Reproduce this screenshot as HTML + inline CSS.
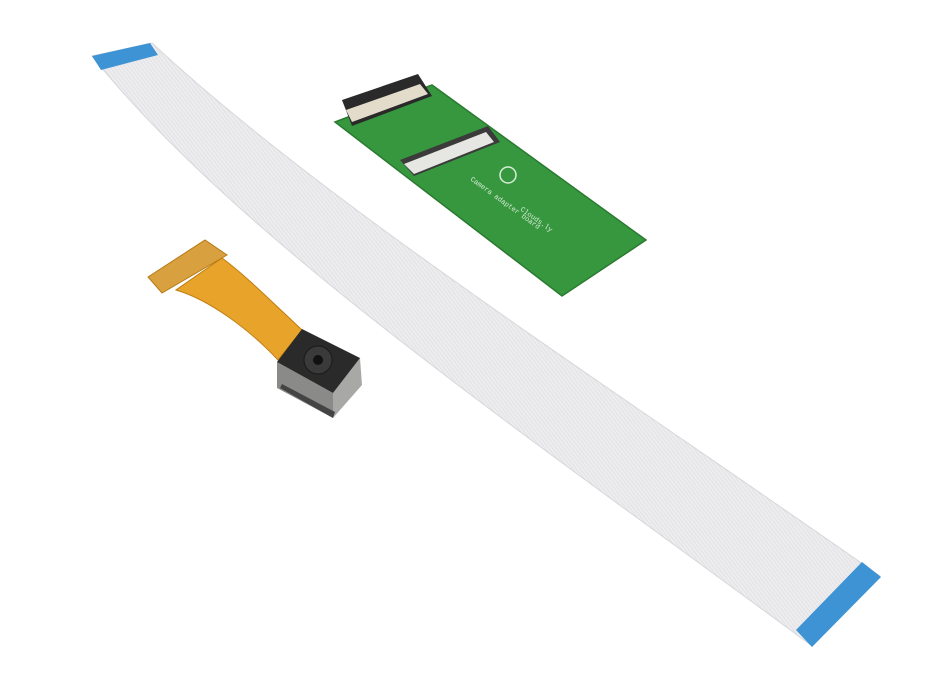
<!DOCTYPE html><html><head><style>html,body{margin:0;padding:0;background:#fff}svg{display:block}</style></head><body>
<svg width="940" height="690" viewBox="0 0 940 690" xmlns="http://www.w3.org/2000/svg">
<defs>
<pattern id="lines" width="3" height="3" patternUnits="userSpaceOnUse" patternTransform="rotate(-38)"><rect width="1" height="3" fill="#d6d7d9"/></pattern>
</defs>
<rect width="940" height="690" fill="#fff"/>
<!-- ribbon cable -->
<path d="M92,56 L152,43 C320,200 600,380 880,576 L812,646 C520,430 240,240 92,56 Z" fill="#ededef" stroke="#d6d7d9" stroke-width="1"/>
<path d="M92,56 L152,43 C320,200 600,380 880,576 L812,646 C520,430 240,240 92,56 Z" fill="url(#lines)" opacity="0.5"/>
<polygon points="92,56 150,43 158,55 101,70" fill="#3d93d4"/>
<polygon points="796,630 862,562 881,577 812,647" fill="#3d93d4"/>
<!-- green board -->
<polygon points="335,122 432,85 646,240 562,296" fill="#37973f" stroke="#2a7a30" stroke-width="1.5"/>
<polygon points="342,100 418,74 432,96 352,126" fill="#2a2a2a"/>
<polygon points="346,110 420,84 428,94 352,122" fill="#e4dccb"/>
<polygon points="400,160 488,126 500,142 414,176" fill="#3b3b3b"/>
<polygon points="404,164 486,132 494,142 414,174" fill="#e6e6e2"/>
<g fill="#d8ecd8" font-family="Liberation Mono, monospace" font-size="7">
<text transform="translate(470,180) rotate(36)">Camera adapter board</text>
<text transform="translate(520,210) rotate(36)">Clouds.ly</text>
</g>
<circle cx="508" cy="175" r="8" fill="none" stroke="#d8ecd8" stroke-width="1.5"/>
<!-- flex -->
<path d="M176,290 C210,300 250,330 278,360 L302,330 C270,300 245,275 222,258 Z" fill="#e8a42a" stroke="#c07c10" stroke-width="1"/>
<polygon points="148,277 205,240 227,255 162,293" fill="#d9a040" stroke="#b87812" stroke-width="1"/>
<!-- camera -->
<polygon points="277,362 333,393 333,418 277,388" fill="#8a8a88"/>
<polygon points="333,393 360,358 362,385 333,418" fill="#a8a8a6"/>
<polygon points="277,362 302,329 360,358 333,393" fill="#2a2a2a"/>
<circle cx="318" cy="360" r="14" fill="#3a3a3a" stroke="#1a1a1a"/>
<circle cx="318" cy="360" r="5" fill="#111"/>
<polygon points="280,388 333,418 335,412 282,384" fill="#444"/>
</svg>
</body></html>
